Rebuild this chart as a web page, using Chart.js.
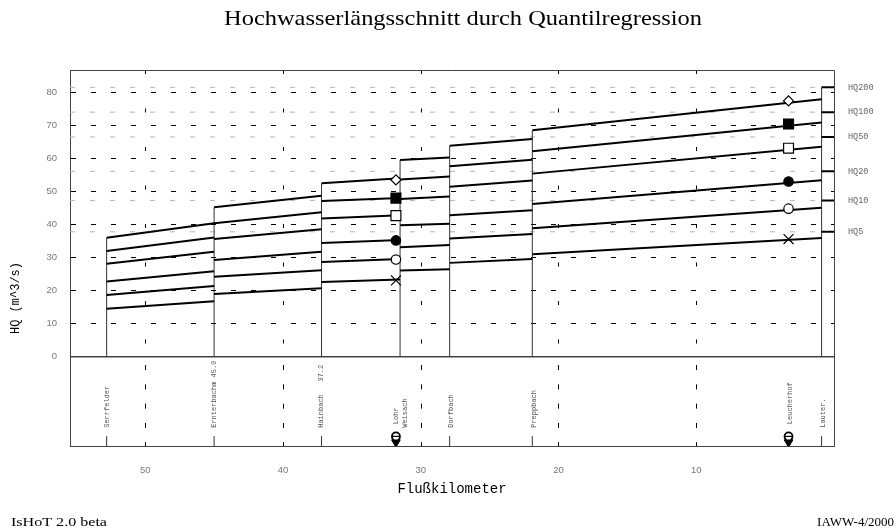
<!DOCTYPE html>
<html lang="de">
<head>
<meta charset="utf-8">
<title>Hochwasserlängsschnitt</title>
<script src="https://cdn.jsdelivr.net/npm/chart.js@4.4.1/dist/chart.umd.min.js"></script>
<style>
  html, body { margin: 0; padding: 0; background: #fff; }
  #laengsschnitt { display: block; }
</style>
</head>
<body>
<canvas id="laengsschnitt" width="896" height="532"></canvas>
<script>
// Abschnitte zwischen den Zuflüssen (Flußkilometer, Anfang / Ende)
const abschnittVon = [52.8, 45.0, 37.2, 31.5, 27.9, 21.9];
const abschnittBis = [45.0, 37.2, 31.5, 27.9, 21.9, 0.9];

// Regressionsgeraden je Abschnitt: HQ (m^3/s) am Anfang und am Ende
const hq200Von = [36.0, 45.2, 52.5, 59.5, 63.8, 68.5];
const hq200Bis = [40.4, 48.7, 54.0, 60.3, 65.9, 77.9];
const hq100Von = [32.0, 40.4, 47.1, 53.6, 57.6, 62.2];
const hq100Bis = [36.1, 43.7, 48.0, 54.5, 59.6, 70.9];
const hq50Von  = [28.1, 35.6, 41.8, 47.7, 51.4, 55.4];
const hq50Bis  = [31.8, 38.6, 42.8, 48.5, 53.3, 63.5];
const hq20Von  = [22.8, 29.3, 34.4, 39.8, 42.8, 46.2];
const hq20Bis  = [25.9, 31.8, 35.3, 40.2, 44.3, 53.4];
const hq10Von  = [18.7, 24.2, 28.7, 33.1, 35.8, 38.9];
const hq10Bis  = [21.4, 26.2, 29.6, 33.8, 37.1, 45.1];
const hq5Von   = [14.5, 19.0, 22.6, 26.1, 28.4, 31.0];
const hq5Bis   = [16.8, 20.7, 23.4, 26.5, 29.6, 35.9];

const jaehrlichkeiten = ['HQ200', 'HQ100', 'HQ50', 'HQ20', 'HQ10', 'HQ5'];

// Pegel mit Quantilen aus der Einzelstatistik (HQ200 ... HQ5)
const pegelKm = [31.8, 3.3];
const pegelLohr = [53.5, 48.0, 42.7, 35.2, 29.4, 23.1];
const pegelLeucherhof = [77.4, 70.4, 63.1, 53.0, 44.8, 35.6];

// Mündung: HQ-Stufen am rechten Rand
const muendungKm = 0.9;
const hqMuendung = [81.5, 74.0, 66.5, 56.1, 47.3, 37.8];

// Beschriftung im unteren Band
const stationName = ['Serrfelder', 'Ernterbachm 45.0', 'Hainbach   37.2', 'Lohr', 'Weisach',
                     'Dorfbach', 'Preppbach', 'Leucherhof', 'Lauter.'];
const stationKm = [52.8, 45.0, 37.2, 31.8, 31.1, 27.8, 21.8, 3.2, 0.8];
const stationIstPegel = [false, false, false, true, false, false, false, true, false];
const zuflussKm = [52.8, 45.0, 37.2, 27.9, 21.9, 0.9];

// Achsen
const kmTicks = [10, 20, 30, 40, 50];
const hqTicks = [0, 10, 20, 30, 40, 50, 60, 70, 80];
const kmMax = 55.46;
const hqMin = -27.0;
const hqMax = 86.75;

// Geraden aller Abschnitte in einer Datenreihe, getrennt durch Lücken
function abschnittLinie(von, bis) {
    const pts = [];
    abschnittVon.forEach(function (km, i) {
        pts.push({ x: km, y: von[i] }, { x: abschnittBis[i], y: bis[i] }, { x: abschnittBis[i], y: null });
    });
    return pts;
}

// Senkrechte Trennlinien an den Zuflüssen, bis zur höchsten Geraden
function trennLinien() {
    const pts = [];
    abschnittVon.forEach(function (km, i) {
        const h = i === 0 ? hq200Von[0] : Math.max(hq200Bis[i - 1], hq200Von[i]);
        pts.push({ x: km, y: 0 }, { x: km, y: h }, { x: km, y: null });
    });
    pts.push({ x: muendungKm, y: 0 }, { x: muendungKm, y: hqMuendung[0] });
    return pts;
}

function muendungsStufen() {
    const pts = [];
    hqMuendung.forEach(function (v) {
        pts.push({ x: muendungKm, y: v }, { x: 0, y: v }, { x: 0, y: null });
    });
    return pts;
}

function stufenRaster() {
    const pts = [];
    hqMuendung.forEach(function (v) {
        pts.push({ x: kmMax, y: v }, { x: muendungKm, y: v }, { x: muendungKm, y: null });
    });
    return pts;
}

function zuflussStriche() {
    const pts = [];
    zuflussKm.forEach(function (km) {
        pts.push({ x: km, y: hqMin }, { x: km, y: hqMin + 3 }, { x: km, y: null });
    });
    return pts;
}

function linie(data, farbe, breite, dash) {
    return {
        data: data, showLine: true, borderColor: farbe, borderWidth: breite,
        borderDash: dash || [], pointRadius: 0, tension: 0, spanGaps: false
    };
}

function pegelPunkte(i, style, gefuellt, radius) {
    return {
        data: [{ x: pegelKm[0], y: pegelLohr[i] }, { x: pegelKm[1], y: pegelLeucherhof[i] }],
        showLine: false, pointStyle: style, pointRadius: radius,
        pointBackgroundColor: gefuellt ? '#000' : '#fff',
        pointBorderColor: '#000', pointBorderWidth: 1.2
    };
}

const datasets = [
    // Pegelsymbole im unteren Band
    { data: pegelKm.map(km => ({ x: km, y: -24.1 })), showLine: false, pointStyle: 'line',
      pointRadius: 4, pointBorderColor: '#000', pointBorderWidth: 1.2 },
    { data: pegelKm.map(km => ({ x: km, y: -24.1 })), showLine: false, pointStyle: 'circle',
      pointRadius: 4, pointBackgroundColor: '#fff', pointBorderColor: '#000', pointBorderWidth: 1.8 },
    { data: pegelKm.map(km => ({ x: km, y: -25.9 })), showLine: false, pointStyle: 'triangle',
      rotation: 180, pointRadius: 5, pointBackgroundColor: '#000', pointBorderColor: '#000', pointBorderWidth: 1 },
    // Quantile an den Pegeln
    pegelPunkte(0, 'rectRot', false, 5),
    pegelPunkte(1, 'rect', true, 7),
    pegelPunkte(2, 'rect', false, 7),
    pegelPunkte(3, 'circle', true, 4.7),
    pegelPunkte(4, 'circle', false, 4.7),
    pegelPunkte(5, 'crossRot', false, 7),
    // Regressionsgeraden
    linie(abschnittLinie(hq200Von, hq200Bis), '#000', 2),
    linie(abschnittLinie(hq100Von, hq100Bis), '#000', 2),
    linie(abschnittLinie(hq50Von, hq50Bis), '#000', 2),
    linie(abschnittLinie(hq20Von, hq20Bis), '#000', 2),
    linie(abschnittLinie(hq10Von, hq10Bis), '#000', 2),
    linie(abschnittLinie(hq5Von, hq5Bis), '#000', 2),
    // Mündungsbalken, Trennlinien, Zuflussstriche
    linie(muendungsStufen(), '#000', 2),
    linie(trennLinien(), '#333', 1),
    linie(zuflussStriche(), '#333', 1),
    // graue Hilfslinien auf Höhe der HQ-Stufen
    linie(stufenRaster(), '#b4b4b4', 1, [5, 15])
];

// Text auf eine feste Breite ziehen
function breitText(ctx, text, x, y, breite) {
    const w = ctx.measureText(text).width;
    ctx.save();
    ctx.translate(x, y);
    ctx.scale(breite / w, 1);
    ctx.fillText(text, 0, 0);
    ctx.restore();
}

// Beschriftungen, Rahmen und senkrechtes Raster
const laengsschnittPlugin = {
    id: 'laengsschnitt',
    beforeDatasetsDraw: function (chart) {
        const { ctx, chartArea: a, scales: { x, y } } = chart;
        const y0 = y.getPixelForValue(0);
        ctx.save();
        ctx.strokeStyle = '#000';
        ctx.lineWidth = 1;
        kmTicks.forEach(function (km) {
            const px = Math.round(x.getPixelForValue(km)) + 0.5;
            ctx.setLineDash([4, 34.5]);
            ctx.lineDashOffset = 0;
            ctx.beginPath();
            ctx.moveTo(px, a.top);
            ctx.lineTo(px, y0);
            ctx.stroke();
            ctx.setLineDash([5, 14.3]);
            ctx.lineDashOffset = 11;
            ctx.beginPath();
            ctx.moveTo(px, y0);
            ctx.lineTo(px, a.bottom);
            ctx.stroke();
        });
        ctx.restore();
    },
    afterDraw: function (chart) {
        const { ctx, chartArea: a, scales: { x, y } } = chart;
        ctx.save();

        // Rahmen oben und rechts
        ctx.strokeStyle = '#444';
        ctx.lineWidth = 1;
        ctx.beginPath();
        ctx.moveTo(a.left, a.top + 0.5);
        ctx.lineTo(a.right + 0.5, a.top + 0.5);
        ctx.lineTo(a.right + 0.5, a.bottom);
        ctx.stroke();

        // Titel
        ctx.fillStyle = '#000';
        ctx.textAlign = 'center';
        ctx.textBaseline = 'middle';
        ctx.font = '21px "Liberation Serif"';
        breitText(ctx, 'Hochwasserlängsschnitt durch Quantilregression', 463, 19, 478);

        // Achsentitel
        ctx.font = '14px "Liberation Mono"';
        ctx.fillText('Flußkilometer', 452, 489);
        ctx.save();
        ctx.translate(16, 298);
        ctx.rotate(-Math.PI / 2);
        ctx.font = '12px "Liberation Mono"';
        ctx.fillText('HQ (m^3/s)', 0, 0);
        ctx.restore();

        // Fußzeile
        ctx.font = '13px "Liberation Serif"';
        ctx.textAlign = 'left';
        breitText(ctx, 'IsHoT 2.0 beta', 11, 523, 96);
        ctx.textAlign = 'right';
        ctx.fillText('IAWW-4/2000', 894, 523);

        // HQ-Stufen rechts
        ctx.fillStyle = '#666';
        ctx.textAlign = 'left';
        ctx.font = '8.5px "Liberation Mono"';
        hqMuendung.forEach(function (v, i) {
            ctx.fillText(jaehrlichkeiten[i], a.right + 14, y.getPixelForValue(v));
        });

        // Zuflüsse und Pegel, senkrecht geschrieben
        ctx.fillStyle = '#555';
        ctx.font = '7px "Liberation Mono"';
        stationName.forEach(function (name, i) {
            ctx.save();
            ctx.translate(x.getPixelForValue(stationKm[i]), y.getPixelForValue(stationIstPegel[i] ? -20.4 : -21.5));
            ctx.rotate(-Math.PI / 2);
            ctx.textAlign = 'left';
            ctx.fillText(name, 0, 0);
            ctx.restore();
        });
        ctx.restore();
    }
};

const tickFont = { family: '"Liberation Sans"', size: 9.5 };

new Chart(document.getElementById('laengsschnitt').getContext('2d'), {
    type: 'line',
    data: { datasets: datasets },
    options: {
        responsive: false,
        animation: false,
        events: [],
        layout: { padding: { top: 70, right: 62, left: 0, bottom: 0 } },
        plugins: {
            legend: { display: false },
            tooltip: { enabled: false },
            title: { display: false }
        },
        scales: {
            x: {
                type: 'linear',
                reverse: true,
                min: 0,
                max: kmMax,
                afterBuildTicks: function (s) { s.ticks = kmTicks.map(v => ({ value: v })); },
                afterFit: function (s) { s.height = 86; },
                grid: { display: false },
                border: { color: '#444', width: 1 },
                ticks: { font: tickFont, color: '#777', padding: 11, maxRotation: 0 }
            },
            y: {
                type: 'linear',
                min: hqMin,
                max: hqMax,
                afterBuildTicks: function (s) { s.ticks = hqTicks.map(v => ({ value: v })); },
                afterFit: function (s) { s.width = 70; },
                grid: {
                    drawTicks: false,
                    color: function (c) { return c.tick && c.tick.value === 0 ? '#444' : '#000'; },
                    lineWidth: function (c) { return c.tick && c.tick.value === 0 ? 1.5 : 1; }
                },
                border: {
                    color: '#444',
                    width: 1,
                    dash: function (c) { return c.tick && c.tick.value !== 0 ? [5, 15] : []; }
                },
                ticks: { font: tickFont, color: '#777', padding: 13 }
            }
        }
    },
    plugins: [laengsschnittPlugin]
});
</script>
</body>
</html>
